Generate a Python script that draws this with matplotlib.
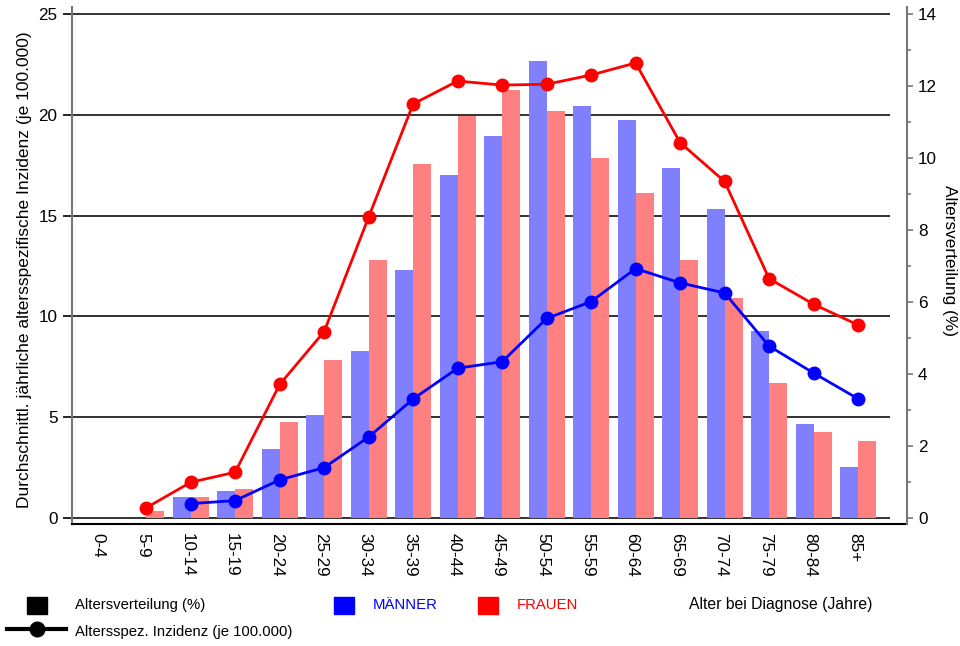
import numpy as np
import matplotlib
matplotlib.use("Agg")
import matplotlib.pyplot as plt
import matplotlib.transforms as mtransforms
from matplotlib.patches import Rectangle
from matplotlib.lines import Line2D

plt.rcParams['font.family'] = ['Liberation Sans', 'DejaVu Sans']

age_groups = ["0-4", "5-9", "10-14", "15-19", "20-24", "25-29", "30-34", "35-39",
              "40-44", "45-49", "50-54", "55-59", "60-64", "65-69", "70-74",
              "75-79", "80-84", "85+"]
nan = np.nan
# Altersverteilung (%)
men_pct = [nan, nan, 0.58, 0.75, 1.90, 2.84, 4.64, 6.89, 9.53, 10.62, 12.70,
           11.44, 11.06, 9.74, 8.59, 5.19, 2.61, 1.41]
women_pct = [nan, 0.17, 0.58, 0.80, 2.67, 4.38, 7.17, 9.85, 11.17, 11.89, 11.31,
             10.00, 9.03, 7.17, 6.12, 3.74, 2.38, 2.13]
# Altersspezifische Inzidenz (je 100.000)
men_inc = [nan, nan, 0.69, 0.84, 1.87, 2.48, 4.00, 5.89, 7.42, 7.74, 9.89,
           10.73, 12.37, 11.66, 11.16, 8.52, 7.18, 5.90]
women_inc = [nan, 0.48, 1.75, 2.25, 6.61, 9.24, 14.93, 20.55, 21.69, 21.49, 21.53,
             21.99, 22.59, 18.63, 16.70, 11.87, 10.60, 9.57]

left_ticks = [0, 5, 10, 15, 20, 25]
right_major = [0, 2, 4, 6, 8, 10, 12, 14]
right_minor = [1, 3, 5, 7, 9, 11, 13]

W, H = 960, 646
fig = plt.figure(figsize=(W / 100, H / 100), dpi=100)
ax = fig.add_axes([72 / W, 1 - 524 / H, (907 - 72) / W, (524 - 7) / H])
ax2 = ax.twinx()
ax3 = fig.add_axes(ax.get_position(), sharex=ax, sharey=ax)
ax3.set_zorder(ax2.get_zorder() + 1)
ax3.patch.set_visible(False)
ax3.axis('off')

x = np.arange(len(age_groups))
xmin, xmax = -0.667, 18.10
ylo, yhi = -0.323, 25.37
ax.set_xlim(xmin, xmax)
ax.set_ylim(ylo, yhi)
ax2.set_ylim(ylo * 14 / 25, yhi * 14 / 25)

# grid lines (behind bars)
ax.hlines(left_ticks, xmin, 17.72, colors='#222222', lw=1.3, zorder=0)

bw = 0.405
ax2.bar(x - bw / 2, men_pct, width=bw, color='#8080FF', linewidth=0, zorder=2)
ax2.bar(x + bw / 2, women_pct, width=bw, color='#FF8080', linewidth=0, zorder=2)

ax3.plot(x, women_inc, color='#FF0000', lw=2, marker='o', ms=9, zorder=3)
ax3.plot(x, men_inc, color='#0000FF', lw=2, marker='o', ms=9, zorder=3)

# axes styling
for s in ['top', 'right']:
    ax.spines[s].set_visible(False)
for s in ['top', 'left', 'bottom']:
    ax2.spines[s].set_visible(False)
ax.spines['left'].set_color('#777777')
ax.spines['left'].set_linewidth(1.5)
ax.spines['bottom'].set_color('black')
ax.spines['bottom'].set_linewidth(1.5)
ax2.spines['right'].set_color('#777777')
ax2.spines['right'].set_linewidth(1.5)

ax.set_yticks(left_ticks)
ax.tick_params(axis='y', direction='out', length=6.5, width=1.2, color='black',
               labelsize=12.3, pad=4)
ax.set_xticks(x)
ax.set_xticklabels(age_groups, rotation=-90, fontsize=12.3)
ax.tick_params(axis='x', length=0, pad=6.5)
shift = mtransforms.ScaledTranslation(-3.5 / 100, 0, fig.dpi_scale_trans)
for lab in ax.get_xticklabels():
    lab.set_transform(lab.get_transform() + shift)

ax2.set_yticks(right_major)
ax2.set_yticks(right_minor, minor=True)
ax2.tick_params(axis='y', which='major', direction='out', length=4.5, width=1.2,
                color='#777777', labelsize=12.3, pad=3.5)
ax2.tick_params(axis='y', which='minor', direction='out', length=3, width=1.2,
                color='#777777')

ax.set_ylabel("Durchschnittl. jährliche altersspezifische Inzidenz (je 100.000)",
              fontsize=12.5, va='center')
ax.yaxis.set_label_coords((25 - 72) / 835, 0.491)
ax2.set_ylabel("Altersverteilung (%)", fontsize=12.4, rotation=270, va='center')
ax2.yaxis.set_label_coords((950 - 72) / 835, 0.51)

# legend (figure coordinates)
def fx(px):
    return px / W

def fy(py):
    return 1 - py / H

for x0, col in [(27, 'black'), (334, '#0000FF'), (478, '#FF0000')]:
    fig.patches.append(Rectangle((fx(x0), fy(614)), 20 / W, 17 / H,
                                 transform=fig.transFigure, color=col, zorder=5))
fig.lines.append(Line2D([fx(7), fx(66)], [fy(629), fy(629)], color='black', lw=3,
                        transform=fig.transFigure))
fig.lines.append(Line2D([fx(36.5)], [fy(629)], color='black', marker='o', ms=10.5,
                        lw=0, transform=fig.transFigure))
lfs = 10.7
fig.text(fx(75), fy(605), "Altersverteilung (%)", fontsize=lfs, va='center', ha='left')
fig.text(fx(373), fy(605), "MÄNNER", fontsize=lfs, va='center', ha='left', color='#0000FF')
fig.text(fx(517), fy(605), "FRAUEN", fontsize=lfs, va='center', ha='left', color='#FF0000')
fig.text(fx(689), fy(605), "Alter bei Diagnose (Jahre)", fontsize=11.3, va='center', ha='left')
fig.text(fx(75), fy(632), "Altersspez. Inzidenz (je 100.000)", fontsize=lfs, va='center', ha='left')

fig.savefig("out.png", dpi=100)
